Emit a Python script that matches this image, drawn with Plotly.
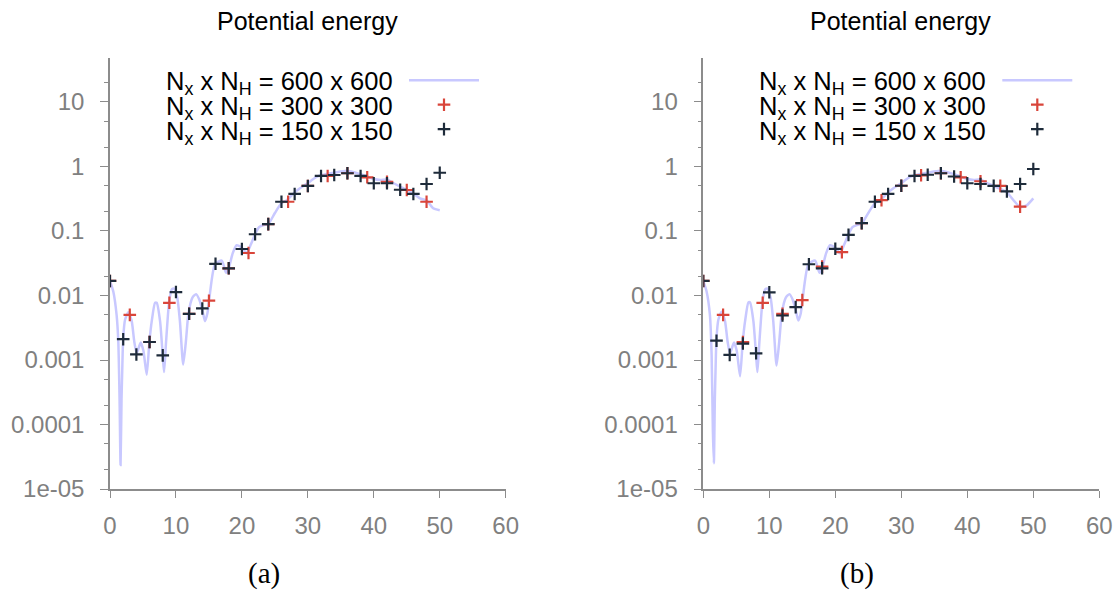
import plotly.graph_objects as go

# ---------------- data ----------------
line_x = [0, 0.5, 1.0, 1.26, 1.45, 1.6, 1.75, 1.85, 2.0, 2.28, 2.78, 3.29, 3.69, 4.05, 4.65,
          5.06, 5.57, 5.97, 6.33, 6.83, 7.08, 7.59, 7.99, 8.2, 8.5, 8.95, 9.36, 9.71, 10.2,
          10.6, 11.1, 11.5, 11.9, 12.5, 13.05, 13.55, 14.06, 14.4, 14.77, 15.07, 15.94,
          16.95, 17.6, 18.0, 18.6, 19.2, 20.0, 20.7, 21.3, 22.0, 22.6, 23.3, 24.0, 25.0,
          26.0, 26.8, 27.8, 28.8, 29.8, 31.4, 33.0, 34.0, 35.9, 37.9, 39.0, 40.0, 41.0,
          42.0, 43.0, 45.0, 46.0, 47.0, 48.0, 49.0, 50.0]

line_a = [0.0168, 0.0115, 0.005, 0.0019, 0.00025, 0.0000235, 0.00025, 0.00066, 0.00217,
          0.0042, 0.0055, 0.004, 0.0019, 0.00127, 0.00186, 0.0014, 0.00059, 0.0019, 0.004,
          0.0077, 0.0077, 0.004, 0.0012, 0.00065, 0.0019, 0.0077, 0.0124, 0.0128, 0.0092,
          0.004, 0.00085, 0.0019, 0.0053, 0.0093, 0.0105, 0.0086, 0.0056, 0.004, 0.0053,
          0.0092, 0.031, 0.0347, 0.0225, 0.0264, 0.045, 0.06, 0.055, 0.045, 0.06, 0.089,
          0.115, 0.124, 0.128, 0.19, 0.27, 0.30, 0.38, 0.46, 0.535, 0.695, 0.77, 0.80,
          0.86, 0.765, 0.70, 0.64, 0.62, 0.63, 0.55, 0.43, 0.38, 0.32, 0.30, 0.225, 0.21]

line_b = [0.0168, 0.0115, 0.005, 0.0012, 0.00008, 0.000025, 0.00025, 0.00066, 0.00217,
          0.0042, 0.0056, 0.004, 0.0019, 0.00127, 0.00186, 0.0014, 0.00056, 0.0019, 0.004,
          0.0078, 0.0078, 0.004, 0.0012, 0.00065, 0.0019, 0.0077, 0.0124, 0.0128, 0.0092,
          0.004, 0.00082, 0.0019, 0.0053, 0.0093, 0.0105, 0.0086, 0.0056, 0.0041, 0.0053,
          0.0092, 0.031, 0.0347, 0.0225, 0.0264, 0.045, 0.06, 0.055, 0.045, 0.06, 0.089,
          0.115, 0.124, 0.13, 0.19, 0.27, 0.30, 0.38, 0.46, 0.535, 0.695, 0.77, 0.80,
          0.86, 0.765, 0.70, 0.64, 0.62, 0.63, 0.55, 0.45, 0.40, 0.30, 0.235, 0.25, 0.32]

x150 = list(range(0, 51, 2))
y150_a = [0.0168, 0.0021, 0.00122, 0.0019, 0.00118, 0.0113, 0.0052, 0.0063, 0.031, 0.0264,
          0.0526, 0.089, 0.128, 0.284, 0.375, 0.499, 0.713, 0.738, 0.785, 0.713, 0.55,
          0.55, 0.436, 0.375, 0.535, 0.80]
y150_b = [0.0168, 0.00199, 0.0012, 0.0018, 0.00127, 0.0112, 0.0049, 0.0066, 0.0305, 0.0264,
          0.053, 0.087, 0.132, 0.284, 0.375, 0.503, 0.713, 0.745, 0.785, 0.70, 0.55,
          0.535, 0.50, 0.41, 0.535, 0.914]

x300 = list(range(0, 49, 3))
y300_a = [0.0168, 0.005, 0.0019, 0.0077, 0.0052, 0.0083, 0.0264, 0.0456, 0.128, 0.284,
          0.499, 0.713, 0.785, 0.68, 0.58, 0.432, 0.284]
y300_b = [0.0168, 0.005, 0.0019, 0.0077, 0.0052, 0.0085, 0.028, 0.047, 0.132, 0.30,
          0.503, 0.73, 0.785, 0.68, 0.59, 0.50, 0.238]

series_names = ["N<sub>x</sub> x N<sub>H</sub> = 600 x 600",
                "N<sub>x</sub> x N<sub>H</sub> = 300 x 300",
                "N<sub>x</sub> x N<sub>H</sub> = 150 x 150"]
panel_labels = ["(a)", "(b)"]
title_text = "Potential energy"

ytick_vals = [1e-5, 1e-4, 1e-3, 1e-2, 1e-1, 1, 10]
ytick_text = ["1e-05", "0.0001", "0.001", "0.01", "0.1", "1", "10"]
xtick_vals = [0, 10, 20, 30, 40, 50, 60]

# ---------------- styling ----------------
W, H = 1118, 594
LINE_C = "#c8c8ff"
RED_C = "#d9453a"
DARK_C = "#1e2b3a"
AX_C = "#8c8c8c"
TICK_FONT = dict(family="Liberation Sans, Arial, sans-serif", size=24, color="#808080")
TXT_FONT = dict(family="Liberation Sans, Arial, sans-serif", size=25.5, color="black")
TITLE_FONT = dict(family="Liberation Sans, Arial, sans-serif", size=25, color="black")

def px(xp):
    return xp / W

def py(yp):
    return 1 - yp / H

panels = [
    dict(x0=110.0, x1=505.7, line=line_a, y150=y150_a, y300=y300_a, xa="x", ya="y", leg="legend"),
    dict(x0=703.3, x1=1099.3, line=line_b, y150=y150_b, y300=y300_b, xa="x2", ya="y2", leg="legend2"),
]

fig = go.Figure()
layout = dict(width=W, height=H, margin=dict(l=0, r=0, t=0, b=0, autoexpand=False),
              paper_bgcolor="white", plot_bgcolor="white", showlegend=True,
              annotations=[])

for i, p in enumerate(panels):
    fig.add_trace(go.Scatter(x=line_x, y=p["line"], mode="lines", name=" ",
                             line=dict(color=LINE_C, width=2.5, shape="spline", smoothing=0.6),
                             xaxis=p["xa"], yaxis=p["ya"], legend=p["leg"]))
    fig.add_trace(go.Scatter(x=x300, y=p["y300"], mode="markers", name=" ",
                             marker=dict(symbol="cross-thin", size=9,
                                         line=dict(color=RED_C, width=2.2)),
                             xaxis=p["xa"], yaxis=p["ya"], legend=p["leg"]))
    fig.add_trace(go.Scatter(x=x150, y=p["y150"], mode="markers", name=" ",
                             marker=dict(symbol="cross-thin", size=9,
                                         line=dict(color=DARK_C, width=2.2)),
                             xaxis=p["xa"], yaxis=p["ya"], legend=p["leg"]))

    sfx = "" if i == 0 else "2"
    layout["xaxis" + sfx] = dict(
        domain=[px(p["x0"]), px(p["x1"])], range=[0, 60], anchor="y" + sfx,
        tickvals=xtick_vals, ticks="outside", ticklen=7, tickcolor=AX_C, tickwidth=1,
        showline=True, linecolor=AX_C, linewidth=1.5, showgrid=False, zeroline=False,
        tickfont=TICK_FONT, ticklabelstandoff=7, automargin=False)
    layout["yaxis" + sfx] = dict(
        domain=[py(489), py(58)], type="log", range=[-5, 1.682], anchor="x" + sfx,
        tickvals=ytick_vals, ticktext=ytick_text, ticks="outside", ticklen=8,
        tickcolor=AX_C, tickwidth=1, showline=True, linecolor=AX_C, linewidth=1.5,
        showgrid=False, zeroline=False, tickfont=TICK_FONT, ticklabelstandoff=11,
        automargin=False,
        minor=dict(ticks="outside", ticklen=4, tickcolor=AX_C, showgrid=False))

    ox = p["x0"]
    layout[p["leg"]] = dict(x=px(ox + 294), y=py(63), xanchor="left", yanchor="top",
                            bgcolor="rgba(0,0,0,0)", borderwidth=0, itemwidth=70,
                            tracegroupgap=0, font=dict(size=16.5))
    layout["annotations"].append(dict(text=title_text, x=px(ox + 197.5), y=py(21),
                                      xref="paper", yref="paper", showarrow=False,
                                      xanchor="center", yanchor="middle", font=TITLE_FONT))
    for k, nm in enumerate(series_names):
        layout["annotations"].append(dict(text=nm, x=px(ox + 53.5), y=py(83 + 25 * k),
                                          xref="paper", yref="paper", showarrow=False,
                                          xanchor="left", yanchor="middle", font=TXT_FONT))
    layout["annotations"].append(dict(text=panel_labels[i], x=px(ox + 154), y=py(573),
                                      xref="paper", yref="paper", showarrow=False,
                                      xanchor="center", yanchor="middle",
                                      font=dict(family="Liberation Serif, serif", size=29,
                                                color="black")))

fig.update_layout(**layout)
fig.write_html("out.html", post_script="document.body.style.margin='0px';",
               config={"displayModeBar": False})
